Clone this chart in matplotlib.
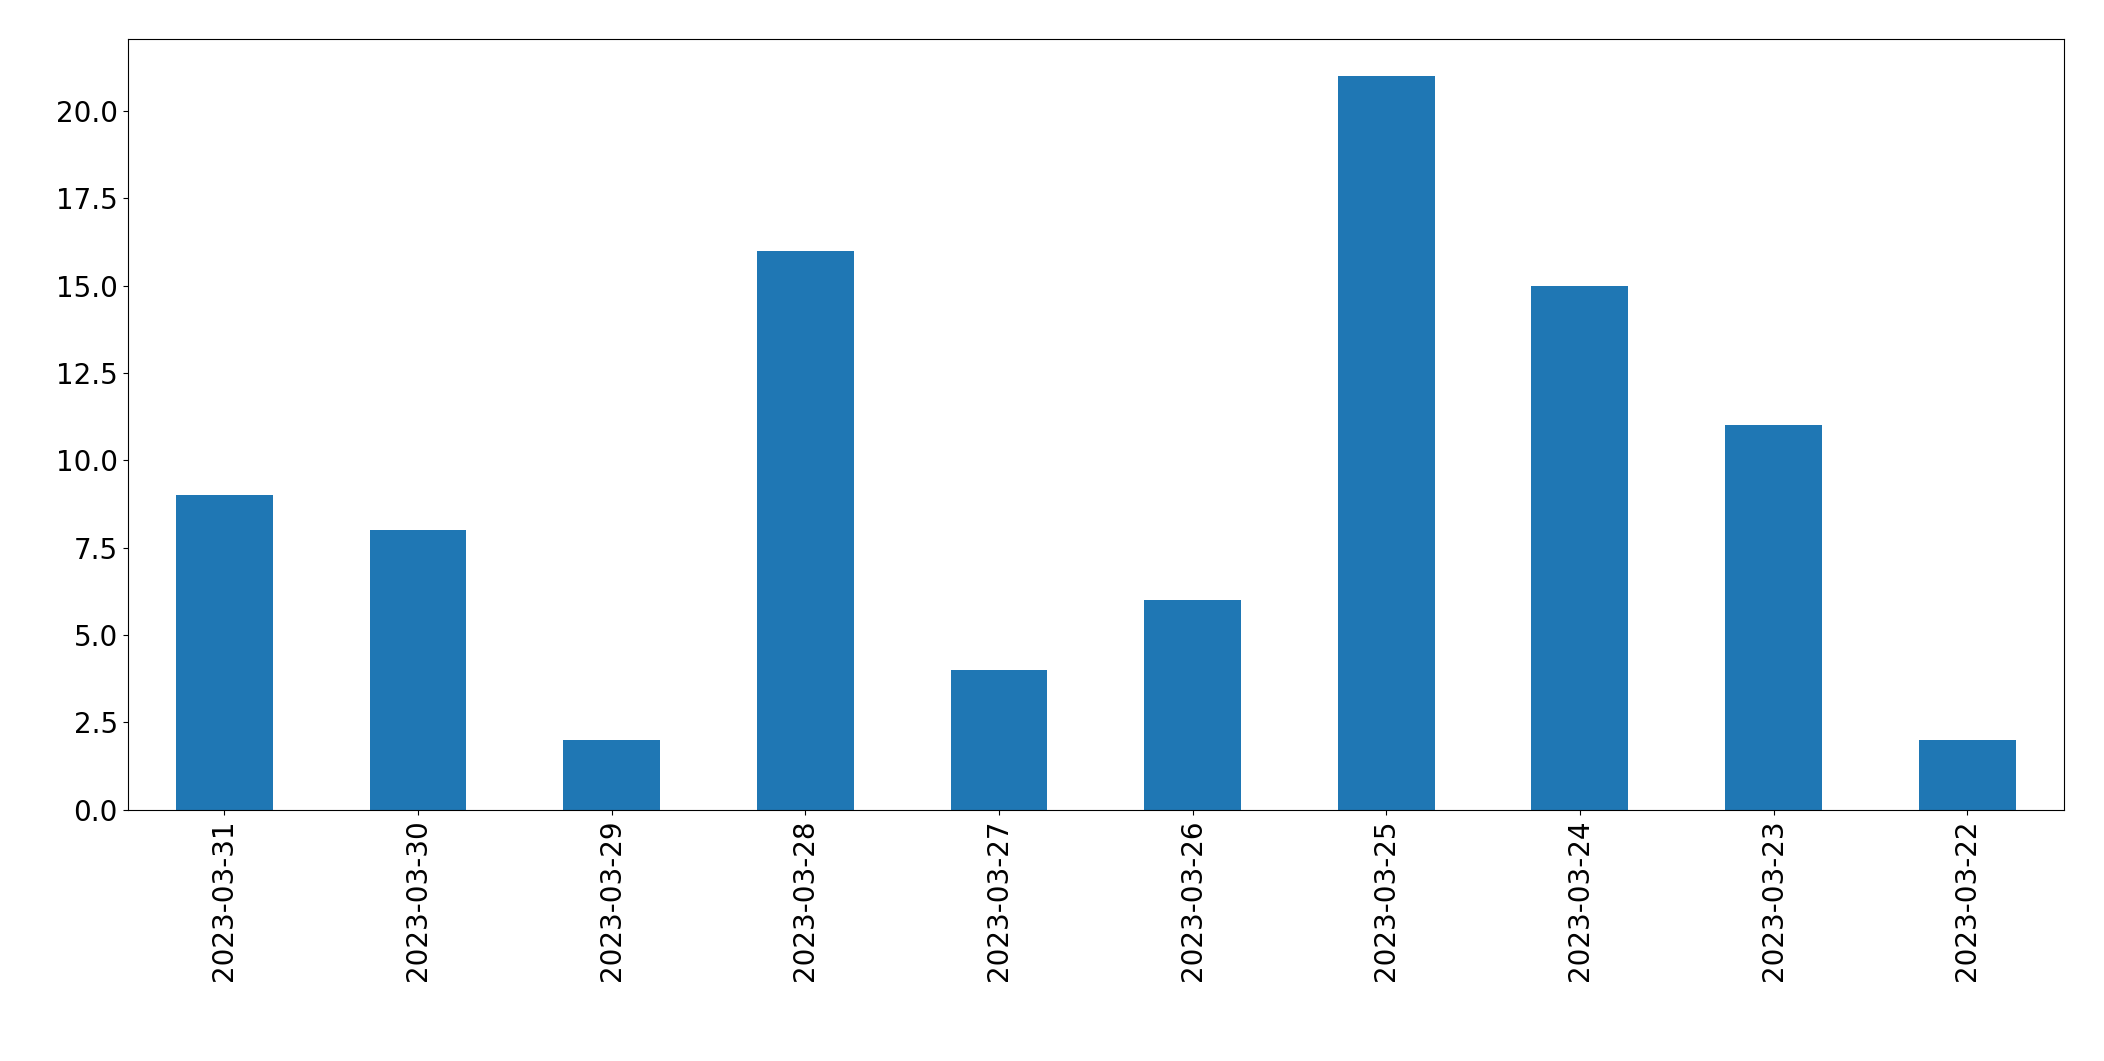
import matplotlib
matplotlib.use("Agg")
import matplotlib.pyplot as plt

dates = ["2023-03-31","2023-03-30","2023-03-29","2023-03-28","2023-03-27",
         "2023-03-26","2023-03-25","2023-03-24","2023-03-23","2023-03-22"]
counts = [9, 8, 2, 16, 4, 6, 21, 15, 11, 2]

fig = plt.figure(figsize=(21.04, 10.61), dpi=100)
ax = fig.add_axes([0.0606, 0.237, 0.9204, 0.726])
x = range(len(dates))
ax.bar(x, counts, width=0.5, color="#1f77b4")
ax.set_xticks(list(x))
ax.set_xticklabels(dates, rotation=90)
ax.set_xlim(-0.5, len(dates) - 0.5)
ax.set_ylim(0, 22.05)
ax.set_yticks([0, 2.5, 5, 7.5, 10, 12.5, 15, 17.5, 20])
ax.set_yticklabels(["0.0","2.5","5.0","7.5","10.0","12.5","15.0","17.5","20.0"])
ax.tick_params(labelsize=20)
fig.savefig("out.png", dpi=100)
